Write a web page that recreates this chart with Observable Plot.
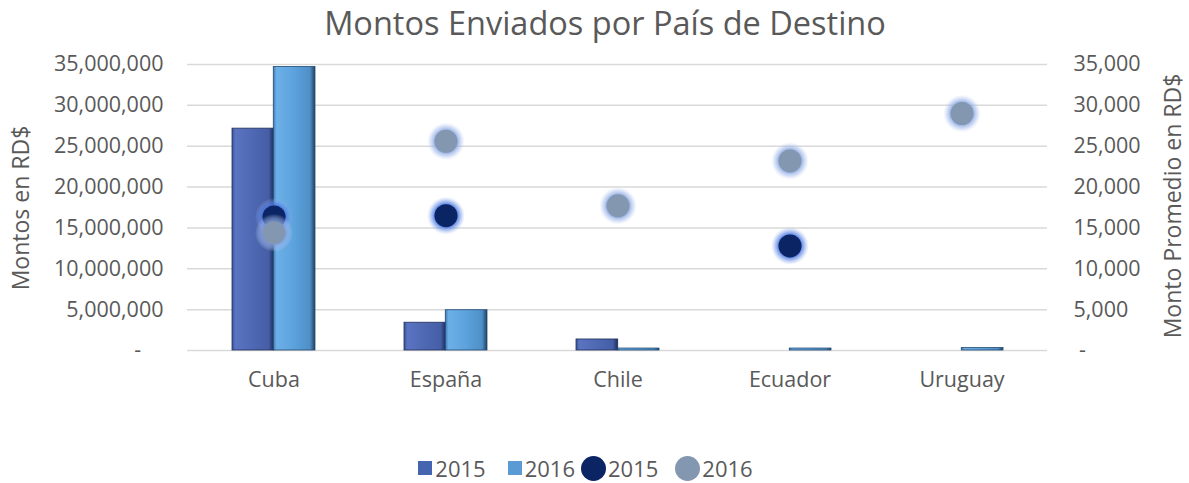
<!DOCTYPE html>
<html>
<head>
<meta charset="utf-8">
<script src="https://cdn.jsdelivr.net/npm/d3@7"></script>
<script src="https://cdn.jsdelivr.net/npm/@observablehq/plot@0.6"></script>
<style>
  html, body { margin: 0; padding: 0; background: #fff; }
  body { width: 1189px; height: 483px; position: relative; overflow: hidden; font-family: "Open Sans", sans-serif; color: #595959; }
  #title { height: 46px; line-height: 46px; text-align: center; font-size: 32.5px; color: #595959; padding-left: 21px; }
  .ytitle { position: absolute; font-size: 23px; color: #595959; white-space: nowrap; transform: translate(-50%, -50%) rotate(-90deg); }
  #legend { position: absolute; top: 453px; left: 0; width: 1171px; height: 30px; display: flex; justify-content: center; align-items: center; font-size: 22px; color: #595959; }
  #legend .item { display: flex; align-items: center; }
  #legend .sq { width: 14px; height: 14px; margin-right: 3px; }
  #legend .ci { width: 25px; height: 25px; border-radius: 50%; margin-right: 2px; }
</style>
</head>
<body>
<div id="title">Montos Enviados por País de Destino</div>
<div id="chart"></div>
<div class="ytitle" style="left:20px; top:208px;">Montos en RD$</div>
<div class="ytitle" style="left:1172px; top:206px;">Monto Promedio en RD$</div>
<div id="legend">
  <div class="item"><div class="sq" style="background:#4665b0"></div>2015</div>
  <div class="item" style="margin-left:22px"><div class="sq" style="background:#5b9bd5"></div>2016</div>
  <div class="item" style="margin-left:6px"><div class="ci" style="background:#0b2463"></div>2015</div>
  <div class="item" style="margin-left:17px"><div class="ci" style="background:#8497b0"></div>2016</div>
</div>
<script>
const countries = ["Cuba", "España", "Chile", "Ecuador", "Uruguay"];
const montos2015 = [27150000, 3400000, 1350000, 0, 0];
const montos2016 = [34700000, 4930000, 240000, 240000, 300000];
const promedio2015 = [16350, 16500, null, 12800, null];
const promedio2016 = [14400, 25600, 17700, 23200, 29000];
const yTicks = [0, 5000000, 10000000, 15000000, 20000000, 25000000, 30000000, 35000000];

const bars2015 = countries.map((c, i) => ({country: c, value: montos2015[i]}));
const bars2016 = countries.map((c, i) => ({country: c, value: montos2016[i]}));
const dots2015 = countries.map((c, i) => ({country: c, avg: promedio2015[i]})).filter(d => d.avg != null);
const dots2016 = countries.map((c, i) => ({country: c, avg: promedio2016[i]})).filter(d => d.avg != null);

const fmtLeft = d => d === 0 ? "-\u00a0\u00a0\u00a0\u00a0" : d3.format(",")(d);
const fmtRight = d => d === 0 ? "\u00a0-" : d3.format(",")(d / 1000);

const width = 1189, marginLeft = 187, marginRight = 142;
const xScaleOpts = {domain: countries, paddingInner: 0.52, paddingOuter: 0.26};
const bandwidth = (width - marginLeft - marginRight) / 5 * 0.48;
const half = bandwidth / 2;

const chart = Plot.plot({
  width: width,
  height: 364,
  marginLeft: marginLeft,
  marginRight: marginRight,
  marginTop: 18,
  marginBottom: 60,
  style: {fontFamily: "'Open Sans', sans-serif", fontSize: "21.5px", color: "#595959", background: "transparent"},
  x: {...xScaleOpts, label: null},
  y: {domain: [0, 35000000], label: null},
  marks: [
    Plot.ruleY(yTicks, {stroke: "#d9d9d9", strokeWidth: 1.5}),
    Plot.axisY({ticks: yTicks, tickFormat: fmtLeft, tickSize: 0, tickPadding: 24, anchor: "left", label: null, fill: "#595959"}),
    Plot.axisY({ticks: yTicks, tickFormat: fmtRight, tickSize: 0, tickPadding: 26, anchor: "right", label: null, fill: "#595959", textAnchor: "start"}),
    Plot.axisX({tickSize: 0, tickPadding: 21, label: null, fill: "#595959"}),
    Plot.barY(bars2015, {x: "country", y: "value", fill: "url(#g2015)", stroke: "#22305a", strokeWidth: 0.8, insetLeft: 0, insetRight: half}),
    Plot.barY(bars2016, {x: "country", y: "value", fill: "url(#g2016)", stroke: "#244a70", strokeWidth: 0.8, insetLeft: half, insetRight: 0}),
    Plot.dot(dots2015, {x: "country", y: d => d.avg * 1000, r: 19, fill: "url(#h2015)"}),
    Plot.dot(dots2015, {x: "country", y: d => d.avg * 1000, r: 11.5, fill: "#0b2463"}),
    Plot.dot(dots2016, {x: "country", y: d => d.avg * 1000, r: 19, fill: "url(#h2016)"}),
    Plot.dot(dots2016, {x: "country", y: d => d.avg * 1000, r: 11.5, fill: "#8497b0"})
  ]
});

const ns = "http://www.w3.org/2000/svg";
const defs = document.createElementNS(ns, "defs");
defs.innerHTML = `
<linearGradient id="g2015" x1="0" x2="1" y1="0" y2="0">
  <stop offset="0" stop-color="#3a5193"/>
  <stop offset="0.08" stop-color="#5a74c2"/>
  <stop offset="0.5" stop-color="#4e68b3"/>
  <stop offset="0.88" stop-color="#455ea6"/>
  <stop offset="1" stop-color="#1f2d5a"/>
</linearGradient>
<linearGradient id="g2016" x1="0" x2="1" y1="0" y2="0">
  <stop offset="0" stop-color="#3f7cb8"/>
  <stop offset="0.08" stop-color="#6db0e8"/>
  <stop offset="0.5" stop-color="#5ca2dc"/>
  <stop offset="0.88" stop-color="#4f8fc7"/>
  <stop offset="1" stop-color="#1f4262"/>
</linearGradient>
<radialGradient id="h2015" cx="0.5" cy="0.5" r="0.5">
  <stop offset="0.58" stop-color="#3f6fe0" stop-opacity="0.9"/>
  <stop offset="0.8" stop-color="#6d93e6" stop-opacity="0.45"/>
  <stop offset="1" stop-color="#9fb7ee" stop-opacity="0"/>
</radialGradient>
<radialGradient id="h2016" cx="0.5" cy="0.5" r="0.5">
  <stop offset="0.58" stop-color="#7f9fe0" stop-opacity="0.85"/>
  <stop offset="0.8" stop-color="#a3bbea" stop-opacity="0.45"/>
  <stop offset="1" stop-color="#c9d6f2" stop-opacity="0"/>
</radialGradient>`;
chart.insertBefore(defs, chart.firstChild);
document.getElementById("chart").appendChild(chart);
</script>
</body>
</html>
